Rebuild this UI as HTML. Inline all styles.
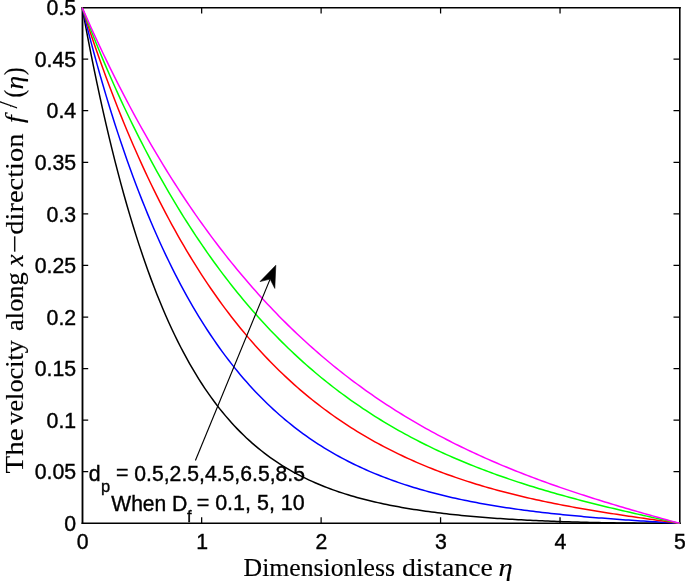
<!DOCTYPE html>
<html lang="en"><head><meta charset="utf-8"><title>Velocity profile</title>
<style>
html,body{margin:0;padding:0;background:#fff;}
svg{display:block}
.s{font-family:"Liberation Sans",sans-serif;font-size:22px;fill:#000;stroke:#000;stroke-width:0.4px}
.sub{font-family:"Liberation Sans",sans-serif;font-size:16.5px;fill:#000;stroke:#000;stroke-width:0.35px}
.t{font-family:"Liberation Serif",serif;font-size:25px;fill:#000;stroke:#000;stroke-width:0.15px}
.i{font-style:italic}
</style></head><body>
<svg width="685" height="582" viewBox="0 0 685 582">
<rect width="685" height="582" fill="#fff"/>

<path d="M82.50 6.98 V523.92" stroke="#000" stroke-width="1.85" fill="none"/>
<path d="M679.80 6.98 V523.92" stroke="#000" stroke-width="1.6" fill="none"/>
<path d="M81.58 7.70 H680.70" stroke="#000" stroke-width="1.45" fill="none"/>
<path d="M81.58 523.25 H680.70" stroke="#000" stroke-width="1.35" fill="none"/>
<path d="M201.66 523.30 v-6.00 M201.66 7.60 v6.00 M321.12 523.30 v-6.00 M321.12 7.60 v6.00 M440.58 523.30 v-6.00 M440.58 7.60 v6.00 M560.04 523.30 v-6.00 M560.04 7.60 v6.00 M82.20 471.73 h6.00 M679.50 471.73 h-6.00 M82.20 420.16 h6.00 M679.50 420.16 h-6.00 M82.20 368.59 h6.00 M679.50 368.59 h-6.00 M82.20 317.02 h6.00 M679.50 317.02 h-6.00 M82.20 265.45 h6.00 M679.50 265.45 h-6.00 M82.20 213.88 h6.00 M679.50 213.88 h-6.00 M82.20 162.31 h6.00 M679.50 162.31 h-6.00 M82.20 110.74 h6.00 M679.50 110.74 h-6.00 M82.20 59.17 h6.00 M679.50 59.17 h-6.00" fill="none" stroke="#000" stroke-width="1.25"/>
<path d="M82.20 7.60 L85.19 23.81 L88.17 39.53 L91.16 54.78 L94.15 69.57 L97.13 83.92 L100.12 97.83 L103.11 111.33 L106.09 124.41 L109.08 137.10 L112.06 149.40 L115.05 161.32 L118.04 172.88 L121.02 184.08 L124.01 194.94 L127.00 205.46 L129.98 215.65 L132.97 225.53 L135.96 235.10 L138.94 244.37 L141.93 253.35 L144.92 262.05 L147.90 270.47 L150.89 278.63 L153.88 286.53 L156.86 294.18 L159.85 301.59 L162.84 308.77 L165.82 315.71 L168.81 322.43 L171.80 328.94 L174.78 335.24 L177.77 341.33 L180.75 347.23 L183.74 352.94 L186.73 358.47 L189.71 363.82 L192.70 368.99 L195.69 373.99 L198.67 378.84 L201.66 383.52 L204.65 388.05 L207.63 392.44 L210.62 396.68 L213.61 400.78 L216.59 404.75 L219.58 408.59 L222.57 412.30 L225.55 415.89 L228.54 419.36 L231.52 422.72 L234.51 425.97 L237.50 429.11 L240.48 432.15 L243.47 435.08 L246.46 437.92 L249.44 440.67 L252.43 443.33 L255.42 445.89 L258.40 448.38 L261.39 450.78 L264.38 453.10 L267.36 455.35 L270.35 457.52 L273.34 459.62 L276.32 461.66 L279.31 463.62 L282.30 465.52 L285.28 467.36 L288.27 469.14 L291.25 470.86 L294.24 472.53 L297.23 474.14 L300.21 475.69 L303.20 477.20 L306.19 478.66 L309.17 480.07 L312.16 481.44 L315.15 482.76 L318.13 484.04 L321.12 485.28 L324.11 486.48 L327.09 487.64 L330.08 488.76 L333.07 489.85 L336.05 490.90 L339.04 491.92 L342.03 492.91 L345.01 493.87 L348.00 494.80 L350.98 495.70 L353.97 496.57 L356.96 497.41 L359.94 498.23 L362.93 499.02 L365.92 499.79 L368.90 500.54 L371.89 501.26 L374.88 501.96 L377.86 502.64 L380.85 503.30 L383.84 503.94 L386.82 504.56 L389.81 505.16 L392.80 505.75 L395.78 506.31 L398.77 506.86 L401.76 507.40 L404.74 507.92 L407.73 508.42 L410.71 508.91 L413.70 509.39 L416.69 509.85 L419.67 510.30 L422.66 510.73 L425.65 511.15 L428.63 511.57 L431.62 511.96 L434.61 512.35 L437.59 512.73 L440.58 513.10 L443.57 513.45 L446.55 513.80 L449.54 514.13 L452.53 514.46 L455.51 514.78 L458.50 515.09 L461.49 515.39 L464.47 515.68 L467.46 515.96 L470.44 516.23 L473.43 516.50 L476.42 516.76 L479.40 517.01 L482.39 517.26 L485.38 517.50 L488.36 517.73 L491.35 517.95 L494.34 518.17 L497.32 518.38 L500.31 518.58 L503.30 518.78 L506.28 518.98 L509.27 519.16 L512.26 519.35 L515.24 519.52 L518.23 519.69 L521.22 519.86 L524.20 520.02 L527.19 520.17 L530.18 520.32 L533.16 520.47 L536.15 520.61 L539.13 520.74 L542.12 520.87 L545.11 521.00 L548.09 521.12 L551.08 521.24 L554.07 521.36 L557.05 521.47 L560.04 521.57 L563.03 521.67 L566.01 521.77 L569.00 521.86 L571.99 521.95 L574.97 522.04 L577.96 522.12 L580.95 522.20 L583.93 522.28 L586.92 522.35 L589.90 522.42 L592.89 522.49 L595.88 522.55 L598.86 522.61 L601.85 522.67 L604.84 522.72 L607.82 522.77 L610.81 522.82 L613.80 522.87 L616.78 522.91 L619.77 522.95 L622.76 522.99 L625.74 523.02 L628.73 523.06 L631.72 523.09 L634.70 523.12 L637.69 523.14 L640.68 523.16 L643.66 523.19 L646.65 523.21 L649.63 523.22 L652.62 523.24 L655.61 523.25 L658.59 523.26 L661.58 523.27 L664.57 523.28 L667.55 523.29 L670.54 523.29 L673.53 523.30 L676.51 523.30 L679.50 523.30" fill="none" stroke="#000" stroke-width="1.50" stroke-linejoin="round"/>
<path d="M82.20 7.60 L85.19 19.58 L88.17 31.26 L91.16 42.66 L94.15 53.77 L97.13 64.61 L100.12 75.19 L103.11 85.52 L106.09 95.61 L109.08 105.46 L112.06 115.07 L115.05 124.47 L118.04 133.64 L121.02 142.61 L124.01 151.36 L127.00 159.92 L129.98 168.29 L132.97 176.46 L135.96 184.45 L138.94 192.25 L141.93 199.88 L144.92 207.34 L147.90 214.63 L150.89 221.76 L153.88 228.73 L156.86 235.54 L159.85 242.19 L162.84 248.70 L165.82 255.06 L168.81 261.28 L171.80 267.36 L174.78 273.30 L177.77 279.11 L180.75 284.79 L183.74 290.34 L186.73 295.77 L189.71 301.07 L192.70 306.26 L195.69 311.32 L198.67 316.28 L201.66 321.12 L204.65 325.85 L207.63 330.47 L210.62 334.99 L213.61 339.41 L216.59 343.73 L219.58 347.95 L222.57 352.07 L225.55 356.10 L228.54 360.04 L231.52 363.88 L234.51 367.64 L237.50 371.32 L240.48 374.90 L243.47 378.41 L246.46 381.84 L249.44 385.19 L252.43 388.46 L255.42 391.65 L258.40 394.77 L261.39 397.82 L264.38 400.80 L267.36 403.71 L270.35 406.56 L273.34 409.33 L276.32 412.05 L279.31 414.70 L282.30 417.29 L285.28 419.82 L288.27 422.29 L291.25 424.70 L294.24 427.06 L297.23 429.36 L300.21 431.61 L303.20 433.80 L306.19 435.95 L309.17 438.04 L312.16 440.09 L315.15 442.09 L318.13 444.04 L321.12 445.95 L324.11 447.81 L327.09 449.63 L330.08 451.41 L333.07 453.14 L336.05 454.84 L339.04 456.49 L342.03 458.11 L345.01 459.69 L348.00 461.23 L350.98 462.73 L353.97 464.21 L356.96 465.64 L359.94 467.05 L362.93 468.42 L365.92 469.76 L368.90 471.07 L371.89 472.34 L374.88 473.59 L377.86 474.81 L380.85 476.00 L383.84 477.16 L386.82 478.30 L389.81 479.41 L392.80 480.50 L395.78 481.56 L398.77 482.59 L401.76 483.60 L404.74 484.59 L407.73 485.56 L410.71 486.50 L413.70 487.42 L416.69 488.32 L419.67 489.20 L422.66 490.06 L425.65 490.90 L428.63 491.72 L431.62 492.52 L434.61 493.31 L437.59 494.07 L440.58 494.82 L443.57 495.55 L446.55 496.27 L449.54 496.97 L452.53 497.65 L455.51 498.32 L458.50 498.97 L461.49 499.61 L464.47 500.23 L467.46 500.84 L470.44 501.44 L473.43 502.02 L476.42 502.59 L479.40 503.15 L482.39 503.70 L485.38 504.23 L488.36 504.75 L491.35 505.26 L494.34 505.76 L497.32 506.24 L500.31 506.72 L503.30 507.19 L506.28 507.64 L509.27 508.09 L512.26 508.52 L515.24 508.95 L518.23 509.37 L521.22 509.78 L524.20 510.18 L527.19 510.57 L530.18 510.95 L533.16 511.32 L536.15 511.69 L539.13 512.05 L542.12 512.40 L545.11 512.74 L548.09 513.08 L551.08 513.41 L554.07 513.73 L557.05 514.05 L560.04 514.36 L563.03 514.66 L566.01 514.96 L569.00 515.25 L571.99 515.54 L574.97 515.82 L577.96 516.10 L580.95 516.37 L583.93 516.63 L586.92 516.89 L589.90 517.14 L592.89 517.39 L595.88 517.64 L598.86 517.88 L601.85 518.12 L604.84 518.35 L607.82 518.58 L610.81 518.81 L613.80 519.03 L616.78 519.25 L619.77 519.46 L622.76 519.68 L625.74 519.89 L628.73 520.09 L631.72 520.30 L634.70 520.50 L637.69 520.70 L640.68 520.89 L643.66 521.09 L646.65 521.28 L649.63 521.47 L652.62 521.66 L655.61 521.85 L658.59 522.03 L661.58 522.21 L664.57 522.40 L667.55 522.58 L670.54 522.76 L673.53 522.94 L676.51 523.12 L679.50 523.30" fill="none" stroke="#00f" stroke-width="1.50" stroke-linejoin="round"/>
<path d="M82.20 7.60 L85.19 16.86 L88.17 25.96 L91.16 34.89 L94.15 43.66 L97.13 52.28 L100.12 60.74 L103.11 69.05 L106.09 77.21 L109.08 85.22 L112.06 93.10 L115.05 100.83 L118.04 108.43 L121.02 115.90 L124.01 123.23 L127.00 130.43 L129.98 137.51 L132.97 144.47 L135.96 151.30 L138.94 158.01 L141.93 164.61 L144.92 171.09 L147.90 177.45 L150.89 183.71 L153.88 189.85 L156.86 195.89 L159.85 201.82 L162.84 207.65 L165.82 213.38 L168.81 219.01 L171.80 224.54 L174.78 229.97 L177.77 235.31 L180.75 240.56 L183.74 245.71 L186.73 250.77 L189.71 255.75 L192.70 260.64 L195.69 265.44 L198.67 270.16 L201.66 274.80 L204.65 279.35 L207.63 283.83 L210.62 288.23 L213.61 292.55 L216.59 296.80 L219.58 300.97 L222.57 305.07 L225.55 309.10 L228.54 313.05 L231.52 316.94 L234.51 320.76 L237.50 324.51 L240.48 328.20 L243.47 331.83 L246.46 335.39 L249.44 338.88 L252.43 342.32 L255.42 345.70 L258.40 349.01 L261.39 352.27 L264.38 355.48 L267.36 358.62 L270.35 361.71 L273.34 364.75 L276.32 367.74 L279.31 370.67 L282.30 373.55 L285.28 376.38 L288.27 379.16 L291.25 381.90 L294.24 384.58 L297.23 387.22 L300.21 389.81 L303.20 392.36 L306.19 394.86 L309.17 397.32 L312.16 399.74 L315.15 402.11 L318.13 404.44 L321.12 406.73 L324.11 408.99 L327.09 411.20 L330.08 413.37 L333.07 415.51 L336.05 417.61 L339.04 419.67 L342.03 421.69 L345.01 423.68 L348.00 425.64 L350.98 427.56 L353.97 429.45 L356.96 431.30 L359.94 433.13 L362.93 434.92 L365.92 436.68 L368.90 438.41 L371.89 440.11 L374.88 441.78 L377.86 443.42 L380.85 445.03 L383.84 446.61 L386.82 448.17 L389.81 449.70 L392.80 451.20 L395.78 452.68 L398.77 454.13 L401.76 455.55 L404.74 456.96 L407.73 458.33 L410.71 459.68 L413.70 461.01 L416.69 462.32 L419.67 463.60 L422.66 464.86 L425.65 466.10 L428.63 467.32 L431.62 468.52 L434.61 469.69 L437.59 470.85 L440.58 471.98 L443.57 473.10 L446.55 474.20 L449.54 475.27 L452.53 476.33 L455.51 477.37 L458.50 478.40 L461.49 479.40 L464.47 480.39 L467.46 481.36 L470.44 482.31 L473.43 483.25 L476.42 484.17 L479.40 485.08 L482.39 485.97 L485.38 486.85 L488.36 487.71 L491.35 488.56 L494.34 489.39 L497.32 490.21 L500.31 491.01 L503.30 491.80 L506.28 492.58 L509.27 493.34 L512.26 494.10 L515.24 494.84 L518.23 495.56 L521.22 496.28 L524.20 496.98 L527.19 497.68 L530.18 498.36 L533.16 499.03 L536.15 499.69 L539.13 500.34 L542.12 500.98 L545.11 501.61 L548.09 502.23 L551.08 502.84 L554.07 503.44 L557.05 504.03 L560.04 504.62 L563.03 505.19 L566.01 505.76 L569.00 506.32 L571.99 506.87 L574.97 507.41 L577.96 507.95 L580.95 508.48 L583.93 509.00 L586.92 509.51 L589.90 510.02 L592.89 510.53 L595.88 511.02 L598.86 511.51 L601.85 512.00 L604.84 512.48 L607.82 512.95 L610.81 513.42 L613.80 513.88 L616.78 514.34 L619.77 514.80 L622.76 515.25 L625.74 515.70 L628.73 516.14 L631.72 516.58 L634.70 517.01 L637.69 517.45 L640.68 517.88 L643.66 518.31 L646.65 518.73 L649.63 519.15 L652.62 519.57 L655.61 519.99 L658.59 520.41 L661.58 520.83 L664.57 521.24 L667.55 521.65 L670.54 522.07 L673.53 522.48 L676.51 522.89 L679.50 523.30" fill="none" stroke="#f00" stroke-width="1.50" stroke-linejoin="round"/>
<path d="M82.20 7.60 L85.19 15.44 L88.17 23.15 L91.16 30.73 L94.15 38.19 L97.13 45.53 L100.12 52.76 L103.11 59.87 L106.09 66.88 L109.08 73.77 L112.06 80.56 L115.05 87.25 L118.04 93.85 L121.02 100.34 L124.01 106.74 L127.00 113.04 L129.98 119.25 L132.97 125.37 L135.96 131.41 L138.94 137.35 L141.93 143.21 L144.92 148.99 L147.90 154.68 L150.89 160.30 L153.88 165.83 L156.86 171.29 L159.85 176.67 L162.84 181.97 L165.82 187.19 L168.81 192.35 L171.80 197.43 L174.78 202.43 L177.77 207.37 L180.75 212.24 L183.74 217.04 L186.73 221.77 L189.71 226.43 L192.70 231.03 L195.69 235.56 L198.67 240.03 L201.66 244.44 L204.65 248.78 L207.63 253.06 L210.62 257.28 L213.61 261.44 L216.59 265.55 L219.58 269.59 L222.57 273.58 L225.55 277.51 L228.54 281.38 L231.52 285.20 L234.51 288.96 L237.50 292.67 L240.48 296.33 L243.47 299.93 L246.46 303.49 L249.44 306.99 L252.43 310.44 L255.42 313.84 L258.40 317.20 L261.39 320.50 L264.38 323.76 L267.36 326.97 L270.35 330.14 L273.34 333.26 L276.32 336.33 L279.31 339.36 L282.30 342.35 L285.28 345.29 L288.27 348.19 L291.25 351.05 L294.24 353.87 L297.23 356.64 L300.21 359.38 L303.20 362.08 L306.19 364.73 L309.17 367.35 L312.16 369.93 L315.15 372.48 L318.13 374.99 L321.12 377.46 L324.11 379.89 L327.09 382.29 L330.08 384.65 L333.07 386.98 L336.05 389.28 L339.04 391.54 L342.03 393.77 L345.01 395.97 L348.00 398.14 L350.98 400.27 L353.97 402.38 L356.96 404.45 L359.94 406.49 L362.93 408.51 L365.92 410.49 L368.90 412.45 L371.89 414.38 L374.88 416.28 L377.86 418.15 L380.85 419.99 L383.84 421.81 L386.82 423.61 L389.81 425.37 L392.80 427.12 L395.78 428.83 L398.77 430.53 L401.76 432.19 L404.74 433.84 L407.73 435.46 L410.71 437.06 L413.70 438.63 L416.69 440.19 L419.67 441.72 L422.66 443.23 L425.65 444.72 L428.63 446.18 L431.62 447.63 L434.61 449.06 L437.59 450.47 L440.58 451.85 L443.57 453.22 L446.55 454.57 L449.54 455.90 L452.53 457.22 L455.51 458.51 L458.50 459.79 L461.49 461.05 L464.47 462.29 L467.46 463.52 L470.44 464.73 L473.43 465.92 L476.42 467.10 L479.40 468.26 L482.39 469.41 L485.38 470.54 L488.36 471.66 L491.35 472.77 L494.34 473.85 L497.32 474.93 L500.31 475.99 L503.30 477.04 L506.28 478.08 L509.27 479.10 L512.26 480.11 L515.24 481.11 L518.23 482.09 L521.22 483.06 L524.20 484.03 L527.19 484.98 L530.18 485.92 L533.16 486.84 L536.15 487.76 L539.13 488.67 L542.12 489.57 L545.11 490.45 L548.09 491.33 L551.08 492.20 L554.07 493.06 L557.05 493.91 L560.04 494.75 L563.03 495.58 L566.01 496.40 L569.00 497.22 L571.99 498.02 L574.97 498.82 L577.96 499.61 L580.95 500.40 L583.93 501.17 L586.92 501.94 L589.90 502.71 L592.89 503.46 L595.88 504.21 L598.86 504.95 L601.85 505.69 L604.84 506.42 L607.82 507.15 L610.81 507.87 L613.80 508.58 L616.78 509.29 L619.77 509.99 L622.76 510.69 L625.74 511.39 L628.73 512.08 L631.72 512.76 L634.70 513.45 L637.69 514.12 L640.68 514.80 L643.66 515.47 L646.65 516.14 L649.63 516.80 L652.62 517.46 L655.61 518.12 L658.59 518.77 L661.58 519.43 L664.57 520.08 L667.55 520.73 L670.54 521.37 L673.53 522.02 L676.51 522.66 L679.50 523.30" fill="none" stroke="#0f0" stroke-width="1.50" stroke-linejoin="round"/>
<path d="M82.20 7.60 L85.19 14.41 L88.17 21.13 L91.16 27.77 L94.15 34.32 L97.13 40.78 L100.12 47.16 L103.11 53.47 L106.09 59.69 L109.08 65.83 L112.06 71.90 L115.05 77.89 L118.04 83.81 L121.02 89.65 L124.01 95.43 L127.00 101.13 L129.98 106.76 L132.97 112.33 L135.96 117.82 L138.94 123.25 L141.93 128.61 L144.92 133.91 L147.90 139.15 L150.89 144.32 L153.88 149.43 L156.86 154.48 L159.85 159.46 L162.84 164.39 L165.82 169.26 L168.81 174.06 L171.80 178.81 L174.78 183.51 L177.77 188.14 L180.75 192.72 L183.74 197.25 L186.73 201.72 L189.71 206.13 L192.70 210.50 L195.69 214.81 L198.67 219.07 L201.66 223.27 L204.65 227.43 L207.63 231.53 L210.62 235.59 L213.61 239.60 L216.59 243.55 L219.58 247.46 L222.57 251.33 L225.55 255.14 L228.54 258.91 L231.52 262.64 L234.51 266.31 L237.50 269.95 L240.48 273.54 L243.47 277.08 L246.46 280.58 L249.44 284.04 L252.43 287.46 L255.42 290.84 L258.40 294.17 L261.39 297.46 L264.38 300.72 L267.36 303.93 L270.35 307.10 L273.34 310.24 L276.32 313.34 L279.31 316.40 L282.30 319.42 L285.28 322.40 L288.27 325.35 L291.25 328.26 L294.24 331.14 L297.23 333.98 L300.21 336.78 L303.20 339.56 L306.19 342.29 L309.17 345.00 L312.16 347.67 L315.15 350.31 L318.13 352.91 L321.12 355.49 L324.11 358.03 L327.09 360.54 L330.08 363.02 L333.07 365.47 L336.05 367.89 L339.04 370.28 L342.03 372.64 L345.01 374.97 L348.00 377.27 L350.98 379.55 L353.97 381.80 L356.96 384.02 L359.94 386.21 L362.93 388.38 L365.92 390.52 L368.90 392.63 L371.89 394.72 L374.88 396.78 L377.86 398.82 L380.85 400.83 L383.84 402.82 L386.82 404.79 L389.81 406.73 L392.80 408.65 L395.78 410.54 L398.77 412.41 L401.76 414.26 L404.74 416.09 L407.73 417.89 L410.71 419.68 L413.70 421.44 L416.69 423.18 L419.67 424.90 L422.66 426.60 L425.65 428.29 L428.63 429.95 L431.62 431.59 L434.61 433.21 L437.59 434.81 L440.58 436.40 L443.57 437.96 L446.55 439.51 L449.54 441.04 L452.53 442.55 L455.51 444.05 L458.50 445.53 L461.49 446.99 L464.47 448.43 L467.46 449.86 L470.44 451.27 L473.43 452.67 L476.42 454.05 L479.40 455.42 L482.39 456.77 L485.38 458.10 L488.36 459.42 L491.35 460.73 L494.34 462.02 L497.32 463.30 L500.31 464.57 L503.30 465.82 L506.28 467.06 L509.27 468.28 L512.26 469.50 L515.24 470.70 L518.23 471.88 L521.22 473.06 L524.20 474.22 L527.19 475.38 L530.18 476.52 L533.16 477.65 L536.15 478.77 L539.13 479.87 L542.12 480.97 L545.11 482.06 L548.09 483.13 L551.08 484.20 L554.07 485.26 L557.05 486.30 L560.04 487.34 L563.03 488.37 L566.01 489.39 L569.00 490.40 L571.99 491.40 L574.97 492.40 L577.96 493.38 L580.95 494.36 L583.93 495.33 L586.92 496.29 L589.90 497.25 L592.89 498.19 L595.88 499.13 L598.86 500.07 L601.85 500.99 L604.84 501.91 L607.82 502.83 L610.81 503.73 L613.80 504.63 L616.78 505.53 L619.77 506.42 L622.76 507.30 L625.74 508.18 L628.73 509.06 L631.72 509.93 L634.70 510.79 L637.69 511.65 L640.68 512.50 L643.66 513.36 L646.65 514.20 L649.63 515.05 L652.62 515.88 L655.61 516.72 L658.59 517.55 L661.58 518.38 L664.57 519.21 L667.55 520.03 L670.54 520.85 L673.53 521.67 L676.51 522.49 L679.50 523.30" fill="none" stroke="#f0f" stroke-width="1.50" stroke-linejoin="round"/>
<text class="s" x="76.68" y="549.10" textLength="11.84" lengthAdjust="spacingAndGlyphs">0</text>
<text class="s" x="196.14" y="549.10" textLength="11.84" lengthAdjust="spacingAndGlyphs">1</text>
<text class="s" x="315.60" y="549.10" textLength="11.84" lengthAdjust="spacingAndGlyphs">2</text>
<text class="s" x="435.06" y="549.10" textLength="11.84" lengthAdjust="spacingAndGlyphs">3</text>
<text class="s" x="554.52" y="549.10" textLength="11.84" lengthAdjust="spacingAndGlyphs">4</text>
<text class="s" x="673.98" y="549.10" textLength="11.84" lengthAdjust="spacingAndGlyphs">5</text>
<text class="s" x="64.36" y="531.05" textLength="11.84" lengthAdjust="spacingAndGlyphs">0</text>
<text class="s" x="34.75" y="479.48" textLength="41.45" lengthAdjust="spacingAndGlyphs">0.05</text>
<text class="s" x="46.60" y="427.91" textLength="29.60" lengthAdjust="spacingAndGlyphs">0.1</text>
<text class="s" x="34.75" y="376.34" textLength="41.45" lengthAdjust="spacingAndGlyphs">0.15</text>
<text class="s" x="46.60" y="324.77" textLength="29.60" lengthAdjust="spacingAndGlyphs">0.2</text>
<text class="s" x="34.75" y="273.20" textLength="41.45" lengthAdjust="spacingAndGlyphs">0.25</text>
<text class="s" x="46.60" y="221.63" textLength="29.60" lengthAdjust="spacingAndGlyphs">0.3</text>
<text class="s" x="34.75" y="170.06" textLength="41.45" lengthAdjust="spacingAndGlyphs">0.35</text>
<text class="s" x="46.60" y="118.49" textLength="29.60" lengthAdjust="spacingAndGlyphs">0.4</text>
<text class="s" x="34.75" y="66.92" textLength="41.45" lengthAdjust="spacingAndGlyphs">0.45</text>
<text class="s" x="46.60" y="15.35" textLength="29.60" lengthAdjust="spacingAndGlyphs">0.5</text>
<path d="M195.40 460.50 L270.10 279.10" stroke="#000" stroke-width="1.15" fill="none"/>
<path d="M275.80 265.30 L260.00 281.60 L270.10 279.10 L274.80 288.40 Z" fill="#000" stroke="#000" stroke-width="0.6" stroke-linejoin="round"/>
<text class="s"><tspan x="88.70" y="480.60" textLength="11.84" lengthAdjust="spacingAndGlyphs">d</tspan><tspan class="sub" x="100.90" y="491.60" textLength="9.18" lengthAdjust="spacingAndGlyphs">p</tspan> <tspan x="115.90" y="480.10" textLength="12.44" lengthAdjust="spacingAndGlyphs">=</tspan> <tspan x="134.30" y="480.60" textLength="170.70" lengthAdjust="spacingAndGlyphs">0.5,2.5,4.5,6.5,8.5</tspan></text>
<text class="s"><tspan x="111.30" y="510.80" textLength="55.00" lengthAdjust="spacingAndGlyphs">When</tspan> <tspan x="172.00" y="510.80" textLength="15.38" lengthAdjust="spacingAndGlyphs">D</tspan><tspan class="sub" x="187.00" y="522.00" textLength="4.58" lengthAdjust="spacingAndGlyphs">f</tspan> <tspan x="196.70" y="510.30" textLength="108.00" lengthAdjust="spacingAndGlyphs">= 0.1, 5, 10</tspan></text>
<text class="t" y="576.30"><tspan x="243.60" textLength="151.40" lengthAdjust="spacingAndGlyphs">Dimensionless</tspan> <tspan x="402.00" textLength="90.80" lengthAdjust="spacingAndGlyphs">distance</tspan> <tspan class="i" x="498.60" textLength="14.10" lengthAdjust="spacingAndGlyphs">η</tspan></text>
<g transform="translate(22.8 473.5) rotate(-90)"><text class="t" y="0"><tspan x="0.00" textLength="45.20" lengthAdjust="spacingAndGlyphs">The</tspan> <tspan x="48.80" textLength="84.60" lengthAdjust="spacingAndGlyphs">velocity</tspan> <tspan x="142.60" textLength="58.60" lengthAdjust="spacingAndGlyphs">along</tspan> <tspan class="i" x="207.30" textLength="12.00" lengthAdjust="spacingAndGlyphs">x</tspan><tspan x="220.20" textLength="18.40" lengthAdjust="spacingAndGlyphs">−</tspan><tspan x="238.80" textLength="101.20" lengthAdjust="spacingAndGlyphs">direction</tspan> <tspan class="i" x="350.50" textLength="7.65" lengthAdjust="spacingAndGlyphs">f</tspan><tspan x="365.10" y="-5.75" textLength="7.20" lengthAdjust="spacingAndGlyphs" style="font-size:25.4px">/</tspan><tspan x="376.00" y="0.00" textLength="7.80" lengthAdjust="spacingAndGlyphs" style="font-size:27.5px">(</tspan><tspan class="i" x="383.90" textLength="13.60" lengthAdjust="spacingAndGlyphs">η</tspan><tspan x="398.25" textLength="7.80" lengthAdjust="spacingAndGlyphs" style="font-size:27.5px">)</tspan></text></g>
</svg></body></html>
